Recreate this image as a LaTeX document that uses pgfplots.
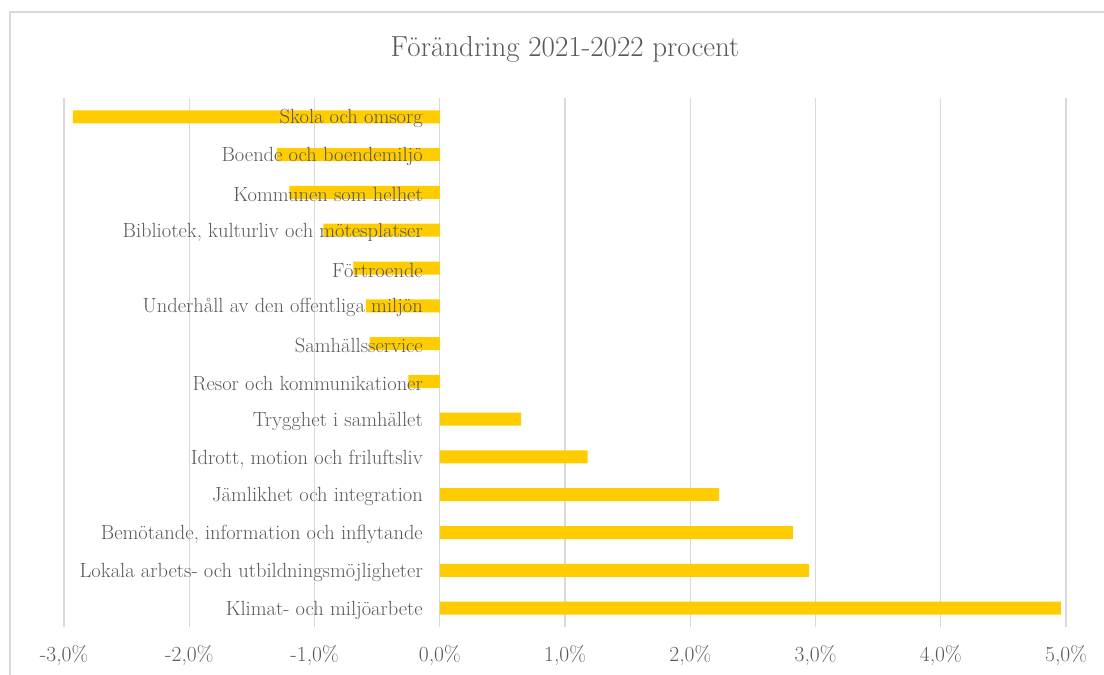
\documentclass[border=0pt]{standalone}
\usepackage{pgfplots}
\pgfplotsset{compat=1.18}
\definecolor{bargold}{HTML}{FFCC00}
\definecolor{txtgray}{HTML}{595959}
\definecolor{gridgray}{HTML}{D9D9D9}
\pgfplotsset{
  base/.style={
    at={(64bp,48bp)}, anchor=south west,
    width=1002bp, height=529bp, scale only axis,
    xmin=-3, xmax=5, ymin=-0.5, ymax=13.5,
    axis line style={draw=none},
    tick style={draw=none},
    tick label style={text=txtgray},
  },
}
\begin{document}
\begin{tikzpicture}[x=1bp,y=1bp]
\useasboundingbox (0,0) rectangle (1104,675);
\draw[gridgray, line width=1.2bp] (10,0) -- (10,663) -- (1104,663);
% bars, grid, x ticks and title
\begin{axis}[
  base,
  xbar, bar width=13bp,
  xtick={-3,-2,-1,0,1,2,3,4,5},
  xticklabels={{-3,0\%},{-2,0\%},{-1,0\%},{0,0\%},{1,0\%},{2,0\%},{3,0\%},{4,0\%},{5,0\%}},
  ytick=\empty,
  xmajorgrids,
  grid style={gridgray, line width=1.2bp},
  x tick label style={font=\fontsize{21.5bp}{24bp}\selectfont, anchor=north, inner sep=0pt, yshift=-18bp},
  title={Förändring 2021-2022 procent},
  title style={font=\fontsize{29bp}{32bp}\selectfont, text=txtgray, at={(0.5,1)}, anchor=base, yshift=36bp},
]
\addplot[fill=bargold, draw=none] coordinates {
  (4.96,0) (2.95,1) (2.82,2) (2.23,3) (1.18,4) (0.65,5) (-0.25,6)
  (-0.56,7) (-0.59,8) (-0.69,9) (-0.93,10) (-1.20,11) (-1.30,12) (-2.93,13)
};
\end{axis}
% category labels drawn over the bars
\begin{axis}[
  base,
  xtick=\empty,
  ytick={0,...,13},
  yticklabels={Klimat- och miljöarbete,Lokala arbets- och utbildningsmöjligheter,{Bemötande, information och inflytande},Jämlikhet och integration,{Idrott, motion och friluftsliv},Trygghet i samhället,Resor och kommunikationer,Samhällsservice,Underhåll av den offentliga miljön,Förtroende,{Bibliotek, kulturliv och mötesplatser},Kommunen som helhet,Boende och boendemiljö,Skola och omsorg},
  y tick label style={font=\fontsize{20.5bp}{23bp}\selectfont, anchor=east, inner sep=0pt, xshift=359bp, yshift=-2bp},
]
\end{axis}
\end{tikzpicture}
\end{document}
